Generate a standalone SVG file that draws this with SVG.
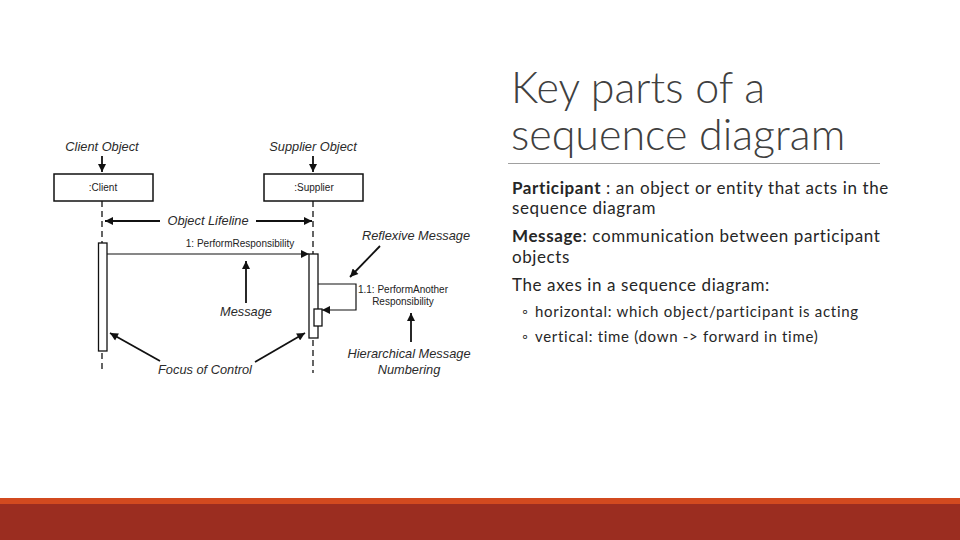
<svg xmlns="http://www.w3.org/2000/svg" width="960" height="540" viewBox="0 0 960 540">
<style>
.lbl{font-family:"Liberation Sans",Arial,sans-serif;font-style:italic;font-size:12.8px;fill:#2a2a2a}
.sm{font-family:"Liberation Sans",Arial,sans-serif;font-size:10px;fill:#222}
.box{fill:#fff;stroke:#111;stroke-width:1.5}
.act{fill:#fff;stroke:#111;stroke-width:1.3}
.life{stroke:#111;stroke-width:1.3;stroke-dasharray:6 4;fill:none}
.ann{stroke:#111;stroke-width:1.8;fill:none}
.msg{stroke:#111;stroke-width:1.2;fill:none}
.title{font-family:Lato,"Open Sans",sans-serif;font-weight:300;font-size:43px;fill:#404040}
.body{font-family:Lato,"Open Sans",sans-serif;font-size:17px;letter-spacing:0.6px;fill:#262626}
.bul{font-family:Lato,"Open Sans",sans-serif;font-size:15px;letter-spacing:0.7px;fill:#262626}
</style>
<defs>
<marker id="ah" viewBox="0 0 10 10" refX="10" refY="5" markerUnits="userSpaceOnUse" markerWidth="9" markerHeight="8" orient="auto">
<path d="M0,0 L10,5 L0,10 z" fill="#111"/>
</marker>
</defs>
<rect width="960" height="540" fill="#fff"/>

<g id="client">
<text class="lbl" x="102" y="151" text-anchor="middle">Client Object</text>
<rect class="box" x="54" y="174" width="99" height="27"/>
<text class="sm" x="103" y="191" text-anchor="middle">:Client</text>
<line class="life" x1="102" y1="201" x2="102" y2="243"/>
<rect class="act" x="98.5" y="243" width="8.5" height="108"/>
<line class="life" x1="102" y1="353" x2="102" y2="370"/>
</g>

<g id="supplier">
<text class="lbl" x="313" y="151" text-anchor="middle">Supplier Object</text>
<rect class="box" x="264" y="174" width="99" height="27"/>
<text class="sm" x="314" y="191" text-anchor="middle">:Supplier</text>
<line class="life" x1="313" y1="201" x2="313" y2="254"/>
<rect class="act" x="309" y="254" width="9" height="84"/>
<rect class="act" x="314" y="309" width="8" height="17"/>
<line class="life" x1="313" y1="340" x2="313" y2="373"/>
</g>

<g id="labels">
<text class="lbl" x="208" y="225" text-anchor="middle">Object Lifeline</text>
<text class="sm" x="240" y="247" text-anchor="middle">1: PerformResponsibility</text>
<text class="lbl" x="246" y="316" text-anchor="middle">Message</text>
<text class="lbl" x="205" y="374" text-anchor="middle">Focus of Control</text>
<text class="lbl" x="416" y="240" text-anchor="middle">Reflexive Message</text>
<text class="sm" x="403" y="293" text-anchor="middle">1.1: PerformAnother</text>
<text class="sm" x="403" y="305" text-anchor="middle">Responsibility</text>
<text class="lbl" x="409" y="358" text-anchor="middle">Hierarchical Message</text>
<text class="lbl" x="409" y="374" text-anchor="middle">Numbering</text>
</g>

<g id="connectors">
<line class="ann" x1="102" y1="156" x2="102" y2="172" marker-end="url(#ah)"/>
<line class="ann" x1="313" y1="156" x2="313" y2="172" marker-end="url(#ah)"/>
<line class="ann" x1="160" y1="221" x2="105" y2="221" marker-end="url(#ah)"/>
<line class="ann" x1="256" y1="221" x2="312" y2="221" marker-end="url(#ah)"/>
<line class="msg" x1="107" y1="254" x2="309" y2="254" marker-end="url(#ah)"/>
<line class="ann" x1="246" y1="303" x2="246" y2="261" marker-end="url(#ah)"/>
<line class="ann" x1="160" y1="361" x2="110" y2="333" marker-end="url(#ah)"/>
<line class="ann" x1="255" y1="362" x2="305" y2="333" marker-end="url(#ah)"/>
<line class="ann" x1="380" y1="246" x2="350" y2="277" marker-end="url(#ah)"/>
<path class="msg" d="M318,284 H356 V310 H322" marker-end="url(#ah)"/>
<line class="ann" x1="411" y1="342" x2="411" y2="313" marker-end="url(#ah)"/>
</g>

<g id="title">
<text class="title" x="511" y="103">Key parts of a</text>
<text class="title" x="511" y="150">sequence diagram</text>
<line x1="508" y1="163.5" x2="880" y2="163.5" stroke="#a0a0a0" stroke-width="1"/>
</g>

<g id="body">
<text class="body" x="512" y="194"><tspan font-weight="bold">Participant</tspan> : an object or entity that acts in the</text>
<text class="body" x="512" y="214">sequence diagram</text>
<text class="body" x="512" y="242"><tspan font-weight="bold">Message</tspan>: communication between participant</text>
<text class="body" x="512" y="263">objects</text>
<text class="body" x="512" y="291">The axes in a sequence diagram:</text>
<text class="bul" x="522" y="317">◦</text>
<text class="bul" x="535" y="317">horizontal: which object/participant is acting</text>
<text class="bul" x="522" y="342">◦</text>
<text class="bul" x="535" y="342">vertical: time (down -&gt; forward in time)</text>
</g>

<rect x="0" y="498" width="960" height="6" fill="#D24A1F"/>
<rect x="0" y="504" width="960" height="36" fill="#9B2D20"/>
</svg>
